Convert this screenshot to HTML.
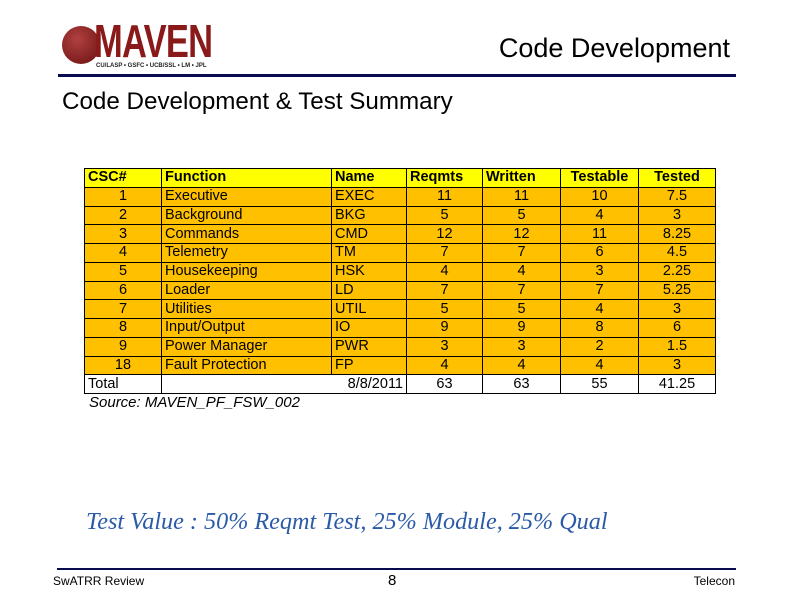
<!DOCTYPE html>
<html><head><meta charset="utf-8"><style>
body{margin:0;width:792px;height:612px;background:#fff;position:relative;overflow:hidden;font-family:"Liberation Sans",sans-serif}
.a{position:absolute}
table{border-collapse:collapse;table-layout:fixed;font-size:14.5px;color:#000}
td{border:1.5px solid #000;height:17.3px;padding:0 3px;line-height:17px;white-space:nowrap;overflow:hidden;box-sizing:content-box}
tr{height:18.75px}
tr.h td{background:#ffff00;font-weight:bold}
tr.r td{background:#ffc000}
tr.t td{background:#fff}
.c{text-align:center}.rt{text-align:right}
</style></head><body>
<div class="a" style="left:58px;top:14px;width:160px;height:60px">
<div class="a" style="left:4px;top:12px;width:38px;height:38px;border-radius:50%;background:radial-gradient(circle at 40% 35%,#b04040,#6a1010)"></div>
<div class="a" style="left:36px;top:0px;font:bold 46px 'Liberation Sans',sans-serif;color:#8a1a1a;letter-spacing:-1px;transform:scaleX(0.75);transform-origin:left">MAVEN</div>
<div class="a" style="left:38px;top:49px;font:bold 6px 'Liberation Sans',sans-serif;color:#222;white-space:nowrap">CU/LASP • GSFC • UCB/SSL • LM • JPL</div>
</div>
<div class="a" style="right:62px;top:33px;font-size:27px">Code Development</div>
<div class="a" style="left:58px;top:74px;width:678px;height:3px;background:#0a0a50"></div>
<div class="a" style="left:62px;top:88px;font-size:24.2px">Code Development &amp; Test Summary</div>
<table class="a" style="left:84px;top:168px;width:631px">
<colgroup><col style="width:77px"><col style="width:170px"><col style="width:75px"><col style="width:76px"><col style="width:78px"><col style="width:78px"><col style="width:77px"></colgroup>
<tr class="h"><td>CSC#</td><td>Function</td><td>Name</td><td>Reqmts</td><td>Written</td><td class="c">Testable</td><td class="c">Tested</td></tr>
<tr class="r"><td class="c">1</td><td>Executive</td><td>EXEC</td><td class="c">11</td><td class="c">11</td><td class="c">10</td><td class="c">7.5</td></tr>
<tr class="r"><td class="c">2</td><td>Background</td><td>BKG</td><td class="c">5</td><td class="c">5</td><td class="c">4</td><td class="c">3</td></tr>
<tr class="r"><td class="c">3</td><td>Commands</td><td>CMD</td><td class="c">12</td><td class="c">12</td><td class="c">11</td><td class="c">8.25</td></tr>
<tr class="r"><td class="c">4</td><td>Telemetry</td><td>TM</td><td class="c">7</td><td class="c">7</td><td class="c">6</td><td class="c">4.5</td></tr>
<tr class="r"><td class="c">5</td><td>Housekeeping</td><td>HSK</td><td class="c">4</td><td class="c">4</td><td class="c">3</td><td class="c">2.25</td></tr>
<tr class="r"><td class="c">6</td><td>Loader</td><td>LD</td><td class="c">7</td><td class="c">7</td><td class="c">7</td><td class="c">5.25</td></tr>
<tr class="r"><td class="c">7</td><td>Utilities</td><td>UTIL</td><td class="c">5</td><td class="c">5</td><td class="c">4</td><td class="c">3</td></tr>
<tr class="r"><td class="c">8</td><td>Input/Output</td><td>IO</td><td class="c">9</td><td class="c">9</td><td class="c">8</td><td class="c">6</td></tr>
<tr class="r"><td class="c">9</td><td>Power Manager</td><td>PWR</td><td class="c">3</td><td class="c">3</td><td class="c">2</td><td class="c">1.5</td></tr>
<tr class="r"><td class="c">18</td><td>Fault Protection</td><td>FP</td><td class="c">4</td><td class="c">4</td><td class="c">4</td><td class="c">3</td></tr>
<tr class="t"><td>Total</td><td colspan="2" class="rt">8/8/2011</td><td class="c">63</td><td class="c">63</td><td class="c">55</td><td class="c">41.25</td></tr>
</table>
<div class="a" style="left:89px;top:394px;font-size:15px;font-style:italic">Source: MAVEN_PF_FSW_002</div>
<div class="a" style="left:86px;top:508px;font:italic 24.2px 'Liberation Serif',serif;color:#2a5aa8">Test Value : 50% Reqmt Test, 25% Module, 25% Qual</div>
<div class="a" style="left:57px;top:568px;width:679px;height:2px;background:#0a0a50"></div>
<div class="a" style="left:53px;top:574px;font-size:12px">SwATRR Review</div>
<div class="a" style="left:388px;top:572px;font-size:15px">8</div>
<div class="a" style="right:57px;top:574px;font-size:12px">Telecon</div>
</body></html>
